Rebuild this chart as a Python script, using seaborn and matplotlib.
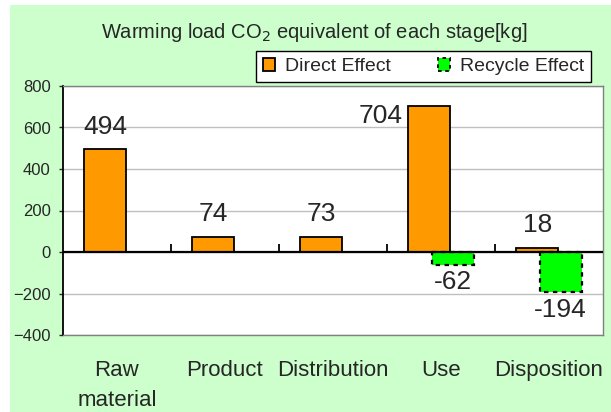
import pandas as pd
import matplotlib
matplotlib.use("Agg")
import matplotlib.pyplot as plt
import seaborn as sns
from matplotlib.patches import Patch, Rectangle

stages = ["Raw\nmaterial", "Product", "Distribution", "Use", "Disposition"]
direct = [494, 74, 73, 704, 18]
recycle_stages = ["Use", "Disposition"]
recycle = [-62, -194]
effects = ["Direct Effect", "Recycle Effect"]
colors = ["#ff9900", "#00ff00"]

df = pd.concat([
    pd.DataFrame({"stage": stages, "value": direct, "effect": effects[0]}),
    pd.DataFrame({"stage": recycle_stages, "value": recycle, "effect": effects[1]}),
], ignore_index=True)

sns.set_style("white")
plt.rcParams["font.family"] = ["Liberation Sans", "DejaVu Sans"]

W, H = 611, 412
fig = plt.figure(figsize=(W / 100, H / 100), dpi=100)
fig.patch.set_facecolor("white")
fig.patches.append(Rectangle((10 / W, 0), 601 / W, 407 / H, transform=fig.transFigure,
                             facecolor="#ccffcc", edgecolor="none", zorder=-10))
ax = fig.add_axes([63 / W, (H - 335) / H, 540 / W, 249 / H])
ax.set_facecolor("white")

sns.barplot(data=df, x="stage", y="value", hue="effect", order=stages, hue_order=effects,
            palette=colors, width=0.43, dodge=True, saturation=1, edgecolor="black",
            linewidth=1.3, legend=False, ax=ax, zorder=3)

# widen bars a bit so they overlap like the Excel chart
for cont, eff in zip(ax.containers, effects):
    for p in cont.patches:
        c = p.get_x() + p.get_width() / 2
        p.set_width(0.39)
        p.set_x(c - 0.195)
        if eff == "Recycle Effect":
            p.set_linestyle((0, (2, 2)))
            p.set_linewidth(1.6)

# value labels
for cont in ax.containers:
    for p in cont.patches:
        val = int(round(p.get_height()))
        xc = p.get_x() + p.get_width() / 2
        if val > 700:
            # tallest bar: label sits to the left of the bar top
            ax.annotate(str(val), (p.get_x(), val), xytext=(-4, -12.5), textcoords="offset points",
                        ha="right", va="baseline", fontsize=19, zorder=5)
        elif val >= 0:
            ax.annotate(str(val), (xc, val), xytext=(0, 11.5), textcoords="offset points",
                        ha="center", va="baseline", fontsize=19, zorder=5)
        else:
            ax.annotate(str(val), (xc, val), xytext=(0, -17.5), textcoords="offset points",
                        ha="center", va="baseline", fontsize=19, zorder=5)

ax.set_ylim(-400, 800)
ax.set_xlim(-0.5, len(stages) - 0.5)
ax.set_yticks(range(-400, 801, 200))
ax.yaxis.grid(True, color="#c0c0c0", linewidth=1, zorder=0)
ax.set_axisbelow(True)
ax.axhline(0, color="black", linewidth=1.6, zorder=4)
ax.vlines([i + 0.5 for i in range(len(stages) - 1)], 0, 38, color="black", linewidth=1.3, zorder=4)

ax.tick_params(axis="y", length=3, width=1, direction="out", labelsize=12, pad=6, left=True)
ax.tick_params(axis="x", length=0, labelsize=16, pad=18)
ax.set_xticks(range(len(stages)))
ax.set_xticklabels(stages, linespacing=1.58, va="top")
ax.set_xlabel("")
ax.set_ylabel("")
for s in ["top", "right", "bottom"]:
    ax.spines[s].set_color("#808080")
    ax.spines[s].set_linewidth(1)
ax.spines["left"].set_color("black")
ax.spines["left"].set_linewidth(1.3)

fig.text(314 / W, 1 - 32 / H, "Warming load CO$_2$ equivalent of each stage[kg]",
         ha="center", va="center", fontsize=14.5)

handles = [Patch(facecolor=colors[0], edgecolor="black", linewidth=1.3),
           Patch(facecolor=colors[1], edgecolor="black", linewidth=1.3, linestyle=(0, (2, 2)))]
fig.legend(handles, effects, loc="center", ncol=2,
           bbox_to_anchor=(423.5 / W, 1 - 66.5 / H), fontsize=14,
           frameon=True, fancybox=False, edgecolor="black", framealpha=1,
           handlelength=0.65, handleheight=0.65, handletextpad=0.5, columnspacing=2.4,
           borderpad=0.35, borderaxespad=0)

fig.savefig("out.png", dpi=100)
